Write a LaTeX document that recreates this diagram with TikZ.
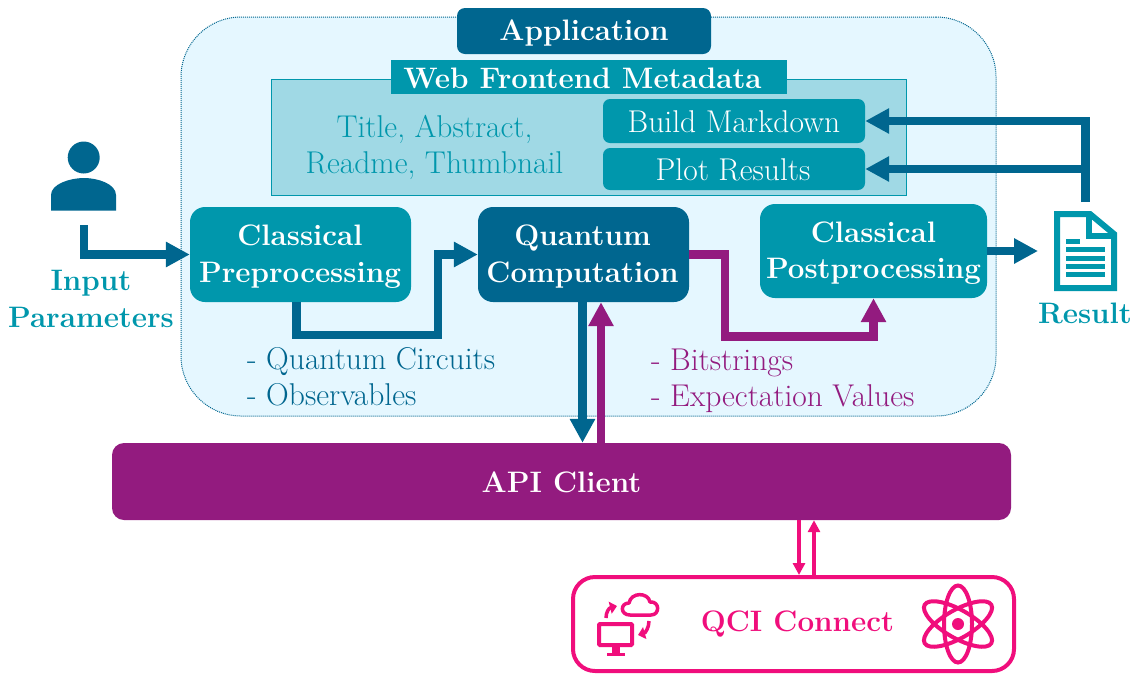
\documentclass[tikz,border=0pt]{standalone}
\usetikzlibrary{arrows.meta,calc}
\definecolor{cdark}{HTML}{00668F}
\definecolor{cteal}{HTML}{0097AC}
\definecolor{cpurple}{HTML}{931B7F}
\definecolor{cpink}{HTML}{F00E7C}
\definecolor{cbg}{HTML}{E5F7FF}
\definecolor{cmeta}{HTML}{A0D9E5}
\newcommand{\regf}{\fontsize{31.5}{36.5}\selectfont}
\newcommand{\bolf}{\fontsize{29.6}{36.5}\selectfont\bfseries}
\newcommand{\tallstart}[1]{\rule{0pt}{#1pt}}
\tikzset{
  box/.style={rounded corners=#1,inner sep=0pt,align=center,text=white,font=\bolf},
  box/.default=15pt,
  lbl/.style={inner sep=0pt,align=center,font=\regf},
  blbl/.style={inner sep=0pt,align=center,font=\bolf},
  bigarrow/.style={line width=8.2pt,-{Triangle[length=24pt,width=24pt]}},
  thinarrow/.style={line width=4pt,cpink,-{Triangle[length=12pt,width=12pt]}},
  iconarrow/.style={cpink,line width=3.5pt,-{Triangle[length=7pt,width=12pt]}},
}
\begin{document}
\begin{tikzpicture}[x=1pt,y=-1pt]
\useasboundingbox (0,0) rectangle (1137,673);
% application background
\node[draw=cdark,fill=cbg,densely dotted,line width=1pt,rounded corners=60pt,minimum width=815pt,minimum height=399pt,inner sep=0pt] (app) at (588.5,216.5) {};
\node[box=8pt,fill=cdark,minimum width=254pt,minimum height=46pt] (apptitle) at (584,31) {\tallstart{25.5}Application};
% metadata
\node[draw=cteal,fill=cmeta,line width=1pt,minimum width=635pt,minimum height=116pt,inner sep=0pt] (meta) at (588.5,137) {};
\node[fill=cteal,text=white,inner sep=0pt,minimum width=396pt,minimum height=34pt,font=\bolf] (metatitle) at (589,77) {\hspace*{-13pt}\tallstart{24}Web Frontend Metadata};
\node[lbl,text=cteal] (metatext) at (434.5,147.5) {Title, Abstract,\\Readme, Thumbnail};
\node[box=7pt,fill=cteal,minimum width=262pt,minimum height=44pt,font=\regf] (build) at (734,121) {\tallstart{24}Build Markdown};
\node[box=7pt,fill=cteal,minimum width=262pt,minimum height=42pt,font=\regf] (plot) at (734,169) {\hspace*{-2pt}\tallstart{24}Plot Results};
% main boxes
\node[box,fill=cteal,minimum width=221pt,minimum height=95pt] (pre) at (300.5,254.5) {\hspace*{-1pt}\tallstart{24.5}Classical\\\hspace*{-1pt}Preprocessing};
\node[box,fill=cdark,minimum width=211pt,minimum height=95pt] (qc) at (583.5,254.5) {\hspace*{-2pt}\tallstart{24.5}Quantum\\\hspace*{-2pt}Computation};
\node[box,fill=cteal,minimum width=227pt,minimum height=94pt] (post) at (873.5,251) {\tallstart{24.5}Classical\\Postprocessing};
\node[box=12pt,fill=cpurple,minimum width=899pt,minimum height=77pt] (api) at (561.5,481.5) {\tallstart{22}API Client};
\node[draw=cpink,line width=4pt,fill=white,rounded corners=22pt,minimum width=441pt,minimum height=94pt,inner sep=0pt] (qci) at (793.5,624) {};
\node[blbl,text=cpink] (qcitext) at (797.5,624) {QCI Connect};
% labels
\node[blbl,text=cteal] (input) at (91,299) {Input\\Parameters};
\node[blbl,text=cteal] (result) at (1085,313) {Result};
\node[lbl,text=cdark,align=left,anchor=west,font=\fontsize{31.5}{36}\selectfont] (qlist) at (247,377) {- Quantum Circuits\\- Observables};
\node[lbl,text=cpurple,align=left,anchor=west,font=\fontsize{31.5}{36}\selectfont] (blist) at (651,380.5) {- Bitstrings\\- Expectation Values};
% person icon
\coordinate (person) at (84,225);
\fill[cdark] (83.7,157.5) circle (16pt);
\fill[cdark] (51,210.5) -- (51,195) .. controls (51,184) and (70,178) .. (84,178) .. controls (98,178) and (116,184) .. (116,195) -- (116,210.5) -- cycle;
% document icon
\coordinate (doctop) at (1085.5,202);
\draw[cteal,line width=6pt,miter limit=10] (1057,214) -- (1090,214) -- (1114,234) -- (1114,288) -- (1057,288) -- cycle;
\draw[cteal,line width=6pt] (1089,214) -- (1089,236) -- (1114,236);
\foreach \yy/\xe in {241/1080,249/1105,258/1105,266/1105,274/1105}
  \fill[cteal] (1066,\yy-2.5) rectangle (\xe,\yy+2.5);
\coordinate (docin) at (1038,251);
% connectors
\draw[bigarrow,cdark] (person) |- (pre.west);
\draw[bigarrow,cdark] ($(pre.south)+(-4,0)$) -- ++(0,33) -| ($(qc.west)+(-40,0)$) -- (qc.west);
\draw[bigarrow,cpurple] (qc.east) -- ++(36,0) -- ++(0,82) -| (post.south);
\draw[bigarrow,cdark] (post.east) -- (docin);
\draw[bigarrow,cdark,line join=miter] (doctop) |- (build.east);
\draw[bigarrow,cdark] (doctop |- plot.east) -- (plot.east);
\coordinate (qdown) at (582.5,0);
\coordinate (qup) at (601,0);
\draw[bigarrow,cdark] (qdown |- qc.south) -- (qdown |- api.north);
\draw[bigarrow,cpurple] (qup |- api.north) -- (qup |- qc.south);
\coordinate (adown) at (799,0);
\coordinate (aup) at (814,0);
\draw[thinarrow] (adown |- api.south) -- (adown |- qci.north);
\draw[thinarrow] (aup |- qci.north) -- (aup |- api.south);
% atom icon
\begin{scope}[shift={(958,624)}]
\foreach \a in {0,60,120}
  \draw[cpink,line width=4pt,rotate=\a] (0,0) ellipse (14pt and 38.5pt);
\fill[cpink] (0,0) circle (6pt);
\end{scope}
% monitor and cloud icon
\draw[cpink,line width=4pt,rounded corners=1pt] (599,624) rectangle (632,645);
\fill[cpink] (612,647) rectangle (620,653);
\fill[cpink] (607,652.5) rectangle (625,656);
\draw[cpink,line width=3.5pt,line join=round] (630,615) .. controls (620,615) and (620,603) .. (629,603) .. controls (631,592) and (648,592) .. (650,602) .. controls (660,601) and (660,615) .. (651,615) -- cycle;
\draw[iconarrow] (606,618) .. controls (606,612) and (609,608) .. (617,606);
\draw[iconarrow] (649,621) .. controls (649,628) and (645,633) .. (638,635);
\end{tikzpicture}
\end{document}
